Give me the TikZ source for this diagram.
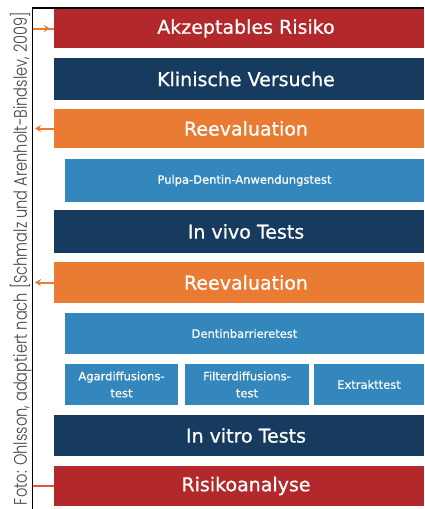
\documentclass[tikz,border=0pt]{standalone}
\usepackage{fontspec}
\setmainfont{DejaVu Sans}[FakeBold=0.7]
\newfontfamily\capfont{Poppins Light}
\usetikzlibrary{arrows.meta}
\definecolor{cred}{HTML}{B3282B}
\definecolor{cnavy}{HTML}{173B5E}
\definecolor{corange}{HTML}{E97B32}
\definecolor{cblue}{HTML}{3487BC}
\definecolor{cline}{HTML}{E5572E}
\definecolor{ccap}{HTML}{454545}
\begin{document}
\begin{tikzpicture}[x=1pt,y=-1pt,
  bar/.style={rectangle, inner sep=0pt, text=white, font=\fontsize{19}{22}\selectfont, minimum width=370pt},
  sbar/.style={rectangle, inner sep=0pt, text=white, font=\fontsize{11.5}{17}\selectfont, align=center, fill=cblue},
  fb/.style={draw=corange, line width=2pt},
  tip/.style={-{Stealth[length=6pt,width=7pt]}}]
\useasboundingbox (0,0) rectangle (424,509);
% bars
\node[bar, fill=cred, minimum height=39pt] (akz) at (239,28.5) {\hspace*{14pt}Akzeptables Risiko};
\node[bar, fill=cnavy, minimum height=42pt] (klin) at (239,79) {\hspace*{14pt}Klinische Versuche};
\node[bar, fill=corange, minimum height=39pt] (reev1) at (239,128.5) {\hspace*{14pt}Reevaluation};
\node[sbar, minimum width=359pt, minimum height=43pt] (pulpa) at (244.5,180.5) {Pulpa-Dentin-Anwendungstest};
\node[bar, fill=cnavy, minimum height=43pt] (vivo) at (239,231.5) {\hspace*{14pt}In vivo Tests};
\node[bar, fill=corange, minimum height=41pt] (reev2) at (239,282.5) {\hspace*{14pt}Reevaluation};
\node[sbar, minimum width=359pt, minimum height=41pt] (dentin) at (244.5,333.5) {Dentinbarrieretest};
\node[sbar, minimum width=113pt, minimum height=41pt] (agar) at (121.5,384.5) {Agardiffusions-\\test};
\node[sbar, minimum width=124pt, minimum height=41pt] (filter) at (247,384.5) {Filterdiffusions-\\test};
\node[sbar, minimum width=110pt, minimum height=41pt] (extr) at (369,384.5) {Extrakttest};
\node[bar, fill=cnavy, minimum height=41pt] (vitro) at (239,435.5) {\hspace*{14pt}In vitro Tests};
\node[bar, fill=cred, minimum height=40pt] (risk) at (239,486) {\hspace*{14pt}Risikoanalyse};
% feedback connectors
\coordinate (ftop) at (32,28.5);
\coordinate (atip) at (50,28.5);
\coordinate (r1tip) at (35,128.5);
\coordinate (r2tip) at (35,282.5);
\coordinate (fbot) at (32,486);
\draw[fb] (ftop) -- (akz.west);
\draw[fb, tip] (ftop) -- (atip);
\draw[fb, tip] (reev1.west) -- (r1tip);
\draw[fb, tip] (reev2.west) -- (r2tip);
\draw[draw=cline, line width=1.8pt] (fbot) -- (risk.west);
% frame
\coordinate (f0) at (32,8);
\coordinate (f1) at (424,8);
\coordinate (f2) at (32,509);
\draw[line width=1.5pt] (f1) -- (f0);
\draw[line width=0.8pt] (f0) -- (f2);
% caption
\node[rotate=90, anchor=base, text=ccap, inner sep=0pt] (cap) at (27,258.5)
  {\resizebox{493pt}{17pt}{\capfont Foto: Ohlsson, adaptiert nach [Schmalz und Arenholt-Bindslev, 2009]}};
\end{tikzpicture}
\end{document}
